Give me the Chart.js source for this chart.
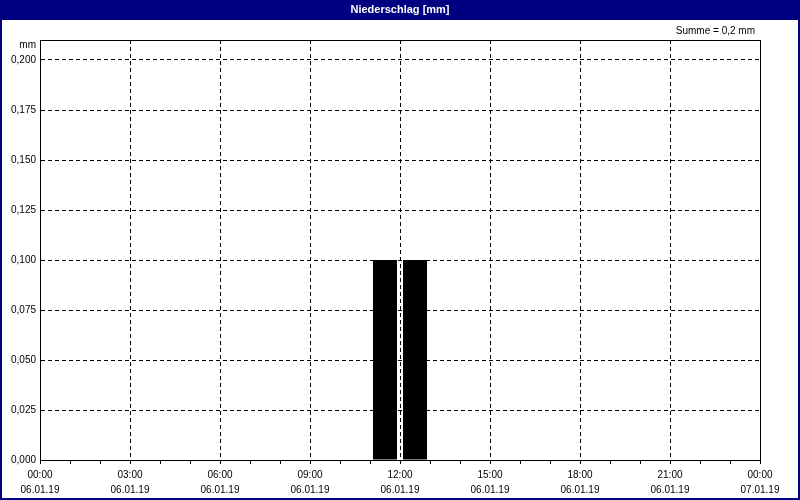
<!DOCTYPE html>
<html>
<head>
<meta charset="utf-8">
<script src="https://cdn.jsdelivr.net/npm/chart.js@4.4.0/dist/chart.umd.min.js"></script>
<style>
    html, body { margin: 0; padding: 0; background: #fff; }
    #wrap { width: 800px; height: 500px; }
</style>
</head>
<body>
<div id="wrap"><canvas id="rainChart" width="800" height="500"></canvas></div>
<script>
// hourly precipitation, 06.01.19
const hourStarts = [0, 1, 2, 3, 4, 5, 6, 7, 8, 9, 10, 11, 12, 13, 14, 15, 16, 17, 18, 19, 20, 21, 22, 23];
const rainMm = [0, 0, 0, 0, 0, 0, 0, 0, 0, 0, 0, 0.1, 0.1, 0, 0, 0, 0, 0, 0, 0, 0, 0, 0, 0];
const timeLabels = ['00:00', '03:00', '06:00', '09:00', '12:00', '15:00', '18:00', '21:00', '00:00'];
const dateLabels = ['06.01.19', '06.01.19', '06.01.19', '06.01.19', '06.01.19', '06.01.19', '06.01.19', '06.01.19', '07.01.19'];
const yTickValues = [0, 0.025, 0.05, 0.075, 0.1, 0.125, 0.15, 0.175, 0.2];
const chartTitle = 'Niederschlag [mm]';
const sumText = 'Summe = 0,2 mm';
const unitText = 'mm';

const NAVY = '#000080';
const FONT = '"Liberation Sans", Arial, sans-serif';

Chart.defaults.font.family = FONT;
Chart.defaults.font.size = 10;
Chart.defaults.color = '#000';

const framePlugin = {
    id: 'frame',
    beforeDraw(chart) {
        const ctx = chart.ctx;
        ctx.save();
        ctx.fillStyle = '#fff';
        ctx.fillRect(0, 0, 800, 500);
        ctx.fillStyle = NAVY;
        ctx.fillRect(0, 0, 800, 20);
        ctx.fillRect(0, 0, 2, 500);
        ctx.fillRect(798, 0, 2, 500);
        ctx.fillRect(0, 498, 800, 2);

        ctx.fillStyle = '#fff';
        ctx.font = 'bold 11px ' + FONT;
        ctx.textAlign = 'center';
        ctx.textBaseline = 'middle';
        ctx.fillText(chartTitle, 400, 10);

        ctx.fillStyle = '#000';
        ctx.font = '10px ' + FONT;
        ctx.textAlign = 'right';
        ctx.fillText(sumText, 755, 31);
        ctx.fillText(unitText, 36, 45);
        ctx.restore();
    },
    afterDraw(chart) {
        const { left, top, right, bottom } = chart.chartArea;
        const ctx = chart.ctx;
        ctx.save();
        ctx.strokeStyle = '#000';
        ctx.lineWidth = 1;
        ctx.setLineDash([]);
        ctx.strokeRect(left + 0.5, top + 0.5, right - left, bottom - top);
        ctx.restore();
    }
};

new Chart(document.getElementById('rainChart'), {
    type: 'bar',
    data: {
        datasets: [{
            data: hourStarts.map((h, i) => ({ x: h + 0.5, y: rainMm[i] })),
            backgroundColor: '#000',
            borderWidth: 0,
            barPercentage: 0.8,
            categoryPercentage: 1.0
        }]
    },
    options: {
        responsive: false,
        animation: false,
        layout: { padding: { top: 40, right: 40, left: 0, bottom: 0 } },
        plugins: {
            legend: { display: false },
            tooltip: { enabled: false }
        },
        scales: {
            x: {
                type: 'linear',
                min: 0,
                max: 24,
                offset: false,
                afterBuildTicks: s => { s.ticks = Array.from({ length: 25 }, (_, i) => ({ value: i })); },
                afterFit: s => { s.height = 40; },
                ticks: {
                    autoSkip: false,
                    maxRotation: 0,
                    padding: 4,
                    font: { size: 10, lineHeight: 1.5 },
                    callback: v => v % 3 === 0 ? [timeLabels[v / 3], dateLabels[v / 3]] : ''
                },
                grid: {
                    offset: false,
                    color: ctx => ctx.tick && ctx.tick.value % 3 === 0 ? '#000' : 'rgba(0,0,0,0)',
                    tickColor: '#000',
                    tickLength: 4,
                    lineWidth: 1
                },
                border: { color: '#000', dash: [4, 3] }
            },
            y: {
                min: 0,
                max: 0.21,
                afterBuildTicks: s => { s.ticks = yTickValues.map(v => ({ value: v })); },
                afterFit: s => { s.width = 40; },
                ticks: {
                    padding: 4,
                    callback: v => v.toFixed(3).replace('.', ',')
                },
                grid: {
                    color: '#000',
                    drawTicks: false,
                    lineWidth: 1
                },
                border: { color: '#000', dash: [4, 3] }
            }
        }
    },
    plugins: [framePlugin]
});
</script>
</body>
</html>
